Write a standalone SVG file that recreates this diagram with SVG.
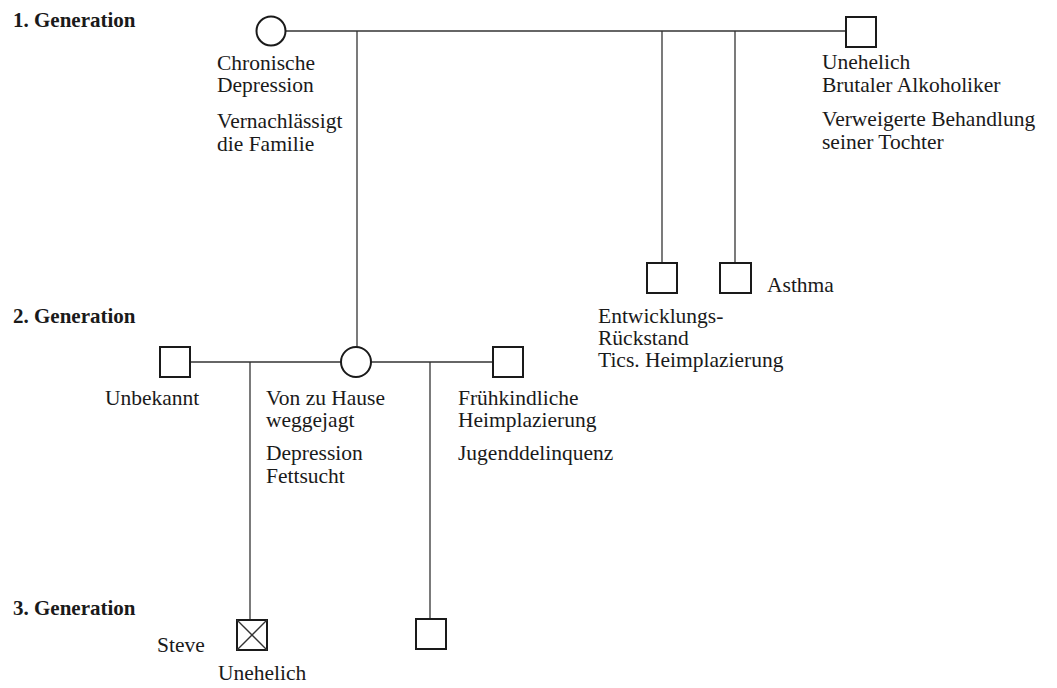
<svg xmlns="http://www.w3.org/2000/svg" width="1057" height="688" viewBox="0 0 1057 688">
<style>
.t{font-family:"Liberation Serif","Times New Roman",serif;font-size:21.5px;fill:#1a1a1a}
.g{font-family:"Liberation Serif","Times New Roman",serif;font-size:21px;font-weight:bold;fill:#1a1a1a}
.sym{fill:#fff;stroke:#1a1a1a;stroke-width:2}
.ln{stroke:#333;stroke-width:1.3;fill:none}
</style>
<rect width="1057" height="688" fill="#fff"/>
<g id="labels">
<text class="g" x="13" y="27">1. Generation</text>
<text class="g" x="13" y="323">2. Generation</text>
<text class="g" x="13" y="615">3. Generation</text>
</g>
<g id="connectors">
<line class="ln" x1="286" y1="31" x2="846" y2="31"/>
<line class="ln" x1="357" y1="31" x2="357" y2="347"/>
<line class="ln" x1="662" y1="31" x2="662" y2="263"/>
<line class="ln" x1="735" y1="31" x2="735" y2="263"/>
<line class="ln" x1="190" y1="362" x2="341" y2="362"/>
<line class="ln" x1="371" y1="362" x2="493" y2="362"/>
<line class="ln" x1="250" y1="362" x2="250" y2="620"/>
<line class="ln" x1="430" y1="362" x2="430" y2="619"/>
</g>
<g id="g1-mother">
<circle class="sym" cx="271" cy="31" r="14.5"/>
<text class="t" x="217" y="70">Chronische</text>
<text class="t" x="217" y="92">Depression</text>
<text class="t" x="217" y="128">Vernachlässigt</text>
<text class="t" x="217" y="151">die Familie</text>
</g>
<g id="g1-father">
<rect class="sym" x="846" y="17" width="30" height="30"/>
<text class="t" x="822" y="69">Unehelich</text>
<text class="t" x="822" y="92">Brutaler Alkoholiker</text>
<text class="t" x="822" y="126">Verweigerte Behandlung</text>
<text class="t" x="822" y="149">seiner Tochter</text>
</g>
<g id="g2-son1">
<rect class="sym" x="647" y="263" width="30" height="30"/>
<text class="t" x="598" y="323">Entwicklungs-</text>
<text class="t" x="598" y="345">Rückstand</text>
<text class="t" x="598" y="367">Tics. Heimplazierung</text>
</g>
<g id="g2-son2">
<rect class="sym" x="720" y="263" width="31" height="30"/>
<text class="t" x="767" y="292">Asthma</text>
</g>
<g id="g2-unknown">
<rect class="sym" x="160" y="347" width="30" height="30"/>
<text class="t" x="105" y="405">Unbekannt</text>
</g>
<g id="g2-mother">
<circle class="sym" cx="356" cy="362" r="15"/>
<text class="t" x="266" y="405">Von zu Hause</text>
<text class="t" x="266" y="427">weggejagt</text>
<text class="t" x="266" y="460">Depression</text>
<text class="t" x="266" y="483">Fettsucht</text>
</g>
<g id="g2-partner">
<rect class="sym" x="493" y="347" width="30" height="30"/>
<text class="t" x="458" y="405">Frühkindliche</text>
<text class="t" x="458" y="427">Heimplazierung</text>
<text class="t" x="458" y="460">Jugenddelinquenz</text>
</g>
<g id="g3-steve">
<rect class="sym" x="237" y="620" width="30" height="30"/>
<line class="ln" x1="237" y1="620" x2="267" y2="650"/>
<line class="ln" x1="267" y1="620" x2="237" y2="650"/>
<text class="t" x="157" y="652">Steve</text>
<text class="t" x="218" y="680">Unehelich</text>
</g>
<g id="g3-child">
<rect class="sym" x="416" y="619" width="30" height="30"/>
</g>
</svg>
